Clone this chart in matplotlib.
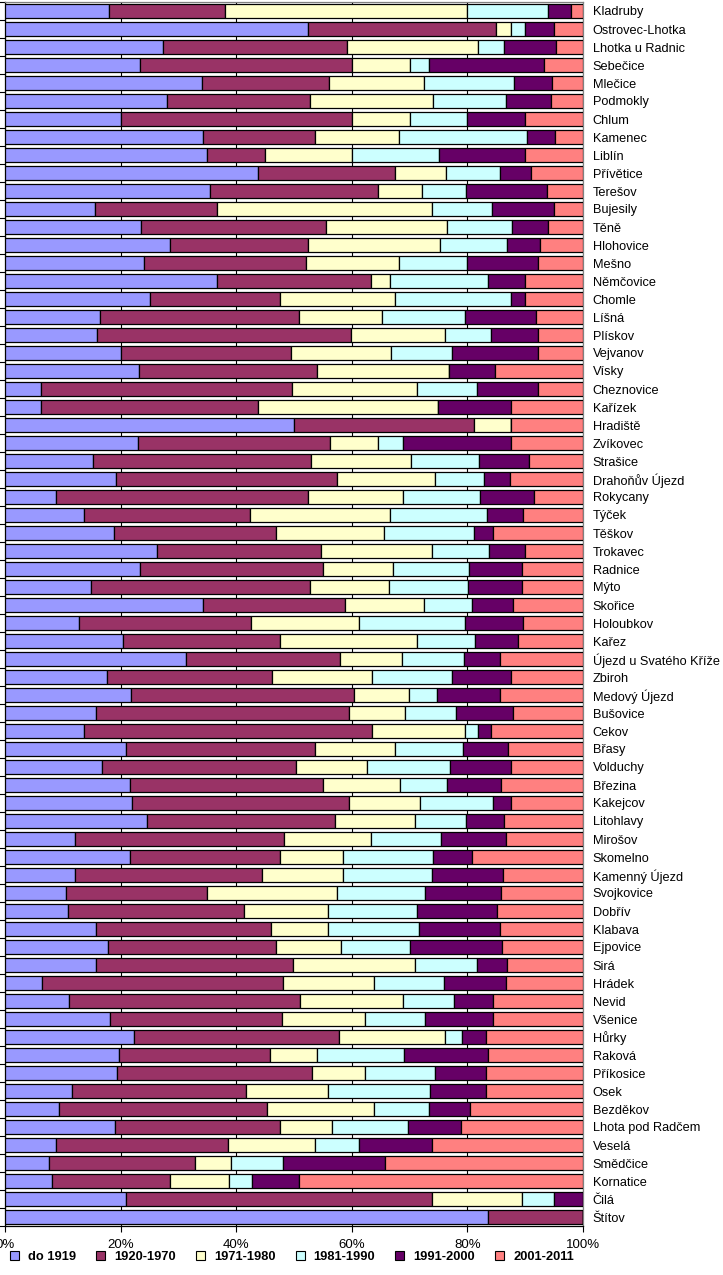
import numpy as np
import matplotlib
matplotlib.use("Agg")
import matplotlib.pyplot as plt
from matplotlib.patches import Patch

plt.rcParams['font.family'] = ['Liberation Sans', 'DejaVu Sans']

categories = ["Kladruby", "Ostrovec-Lhotka", "Lhotka u Radnic", "Sebečice", "Mlečice", "Podmokly",
              "Chlum", "Kamenec", "Liblín", "Přívětice", "Terešov", "Bujesily", "Těně", "Hlohovice",
              "Mešno", "Němčovice", "Chomle", "Líšná", "Plískov", "Vejvanov", "Vísky", "Cheznovice",
              "Kařízek", "Hradiště", "Zvíkovec", "Strašice", "Drahoňův Újezd", "Rokycany", "Týček",
              "Těškov", "Trokavec", "Radnice", "Mýto", "Skořice", "Holoubkov", "Kařez",
              "Újezd u Svatého Kříže", "Zbiroh", "Medový Újezd", "Bušovice", "Cekov", "Břasy",
              "Volduchy", "Březina", "Kakejcov", "Litohlavy", "Mirošov", "Skomelno", "Kamenný Újezd",
              "Svojkovice", "Dobřív", "Klabava", "Ejpovice", "Sirá", "Hrádek", "Nevid", "Všenice",
              "Hůrky", "Raková", "Příkosice", "Osek", "Bezděkov", "Lhota pod Radčem", "Veselá",
              "Smědčice", "Kornatice", "Čilá", "Štítov"]

do_1919 = [18, 52.5, 27.3, 23.3, 34.1, 28.1, 20, 34.2, 35, 43.7, 35.4, 15.6, 23.5, 28.6, 24, 36.6,
           25.1, 16.4, 16, 20, 23.1, 6.2, 6.2, 50, 23, 15.2, 19.2, 8.8, 13.6, 18.8, 26.3, 23.3,
           14.8, 34.2, 12.8, 20.4, 31.3, 17.7, 21.8, 15.8, 13.6, 20.9, 16.8, 21.6, 21.9, 24.6,
           12.1, 21.6, 12.1, 10.5, 10.9, 15.7, 17.9, 15.7, 6.4, 11, 18.1, 22.4, 19.7, 19.3, 11.6,
           9.3, 19.1, 8.8, 7.6, 8.1, 21, 83.6]
y1920_1970 = [20, 32.5, 31.8, 36.7, 21.9, 24.7, 40, 19.5, 10, 23.7, 29.1, 21.1, 32.1, 23.8, 28, 26.8,
              22.4, 34.5, 43.9, 29.4, 30.8, 43.4, 37.5, 31.2, 33.3, 37.8, 38.3, 43.6, 28.8, 28, 28.3,
              31.7, 37.9, 24.7, 29.8, 27.1, 26.6, 28.5, 38.5, 43.7, 49.9, 32.8, 33.6, 33.4, 37.6,
              32.5, 36.1, 26, 32.3, 24.4, 30.4, 30.4, 28.9, 34.2, 41.7, 40.1, 29.9, 35.3, 26.2, 33.9,
              30.1, 36.1, 28.4, 29.8, 25.3, 20.4, 52.8, 16.4]
y1971_1980 = [42, 2.5, 22.7, 10, 16.5, 21.3, 10, 14.5, 15, 8.9, 7.6, 37.1, 20.9, 22.9, 16.1, 3.2,
              20, 14.4, 16.2, 17.3, 23, 21.6, 31.2, 6.4, 8.3, 17.2, 16.9, 16.5, 24.2, 18.8, 19.2,
              12.2, 13.8, 13.6, 18.7, 23.7, 10.8, 17.3, 9.6, 9.7, 16.1, 13.8, 12.3, 13.4, 12.3, 13.8,
              15.2, 10.8, 14, 22.6, 14.5, 9.8, 11.4, 21, 15.7, 17.8, 14.3, 18.4, 8.1, 9, 14.1, 18.4,
              9.1, 15, 6.2, 10.3, 15.7, 0]
y1981_1990 = [14, 2.5, 4.5, 3.3, 15.5, 12.5, 10, 22.1, 15, 9.3, 7.7, 10.5, 11.3, 11.5, 11.9, 16.9,
              20.1, 14.3, 7.9, 10.6, 0, 10.5, 0, 0, 4.2, 11.8, 8.5, 13.2, 16.8, 15.6, 10, 13.1, 13.6,
              8.3, 18.3, 10.2, 10.7, 13.8, 4.9, 8.9, 2.3, 11.8, 14.3, 8.1, 12.7, 8.8, 12, 15.6, 15.4,
              15.2, 15.4, 15.8, 11.9, 10.7, 12.2, 8.8, 10.4, 2.9, 15, 12.2, 17.7, 9.5, 13.2, 7.7, 9,
              4, 5.4, 0]
y1991_2000 = [4, 5, 9.1, 20, 6.7, 7.8, 10, 4.9, 15, 5.4, 13.9, 10.6, 6.1, 5.7, 12.2, 6.5, 2.4, 12.3,
              8.2, 14.9, 7.8, 10.6, 12.7, 0, 18.8, 8.6, 4.4, 9.5, 6.2, 3.3, 6.2, 9.2, 9.3, 7.1, 10.1,
              7.4, 6.2, 10.3, 10.8, 9.8, 2.2, 7.8, 10.6, 9.3, 3.1, 6.7, 11.3, 6.8, 12.3, 13.1, 13.9,
              13.9, 15.8, 5.3, 10.6, 6.8, 11.8, 4.2, 14.6, 8.8, 9.7, 7.1, 9.1, 12.5, 17.7, 8.1, 5.1, 0]
y2001_2011 = [2, 5, 4.6, 6.7, 5.3, 5.6, 10, 4.8, 10, 9.0, 6.3, 5.1, 6.1, 7.5, 7.8, 10, 10, 8.1, 7.8,
              7.8, 15.3, 7.7, 12.4, 12.4, 12.4, 9.4, 12.7, 8.4, 10.4, 15.5, 10, 10.5, 10.6, 12.1,
              10.3, 11.2, 14.4, 12.4, 14.4, 12.1, 15.9, 12.9, 12.4, 14.2, 12.4, 13.6, 13.3, 19.2,
              13.9, 14.2, 14.9, 14.4, 14.1, 13.1, 13.4, 15.5, 15.5, 16.8, 16.4, 16.8, 16.8, 19.6,
              21.1, 26.2, 34.2, 49.1, 0, 0]

series_names = ["do 1919", "1920-1970", "1971-1980", "1981-1990", "1991-2000", "2001-2011"]
series_colors = ["#9999FF", "#993366", "#FFFFCC", "#CCFFFF", "#660066", "#FF8080"]
xtick_values = [0, 20, 40, 60, 80, 100]
xtick_labels = ["0%", "20%", "40%", "60%", "80%", "100%"]

data = np.array([do_1919, y1920_1970, y1971_1980, y1981_1990, y1991_2000, y2001_2011], dtype=float)
data = data / data.sum(axis=0) * 100.0

fig = plt.figure(figsize=(7.23, 12.75), dpi=100)
ax = fig.add_axes([5 / 723, 1 - 1226 / 1275, 578 / 723, 1224 / 1275])

y = np.arange(len(categories))
left = np.zeros(len(categories))
for vals, name, col in zip(data, series_names, series_colors):
    ax.barh(y, vals, left=left, height=0.8, color=col, edgecolor="black", linewidth=0.9,
            label=name, zorder=3)
    left += vals

ax.set_xlim(0, 100)
ax.set_ylim(len(categories) - 0.5, -0.5)
ax.set_xticks(xtick_values)
ax.set_xticklabels(xtick_labels, fontsize=9.5)
ax.xaxis.grid(True, color="black", linewidth=0.8, zorder=0)
ax.set_axisbelow(True)

ax.set_yticks(y)
ax.set_yticklabels(categories, fontsize=9.2)
ax.set_yticks(np.arange(len(categories) + 1) - 0.5, minor=True)
ax.tick_params(axis="y", which="major", left=False, right=False, labelleft=False,
               labelright=True, pad=3.5)
ax.tick_params(axis="y", which="minor", left=True, right=False, length=4, width=0.8,
               direction="out")
ax.tick_params(axis="x", length=4, width=0.8, direction="out", pad=5)

for s in ["left", "bottom"]:
    ax.spines[s].set_color("black")
    ax.spines[s].set_linewidth(0.9)
for s in ["top", "right"]:
    ax.spines[s].set_color("#808080")
    ax.spines[s].set_linewidth(0.9)

handles = [Patch(facecolor=c, edgecolor="black", linewidth=0.8) for c in series_colors]
fig.legend(handles, series_names, loc="center", bbox_to_anchor=(292 / 723, 1 - 1257 / 1275),
           ncol=6, frameon=False, handlelength=0.7, handleheight=0.7, handletextpad=0.7,
           columnspacing=1.55, prop={"weight": "bold", "size": 9.3})

fig.savefig("out.png", dpi=100)
